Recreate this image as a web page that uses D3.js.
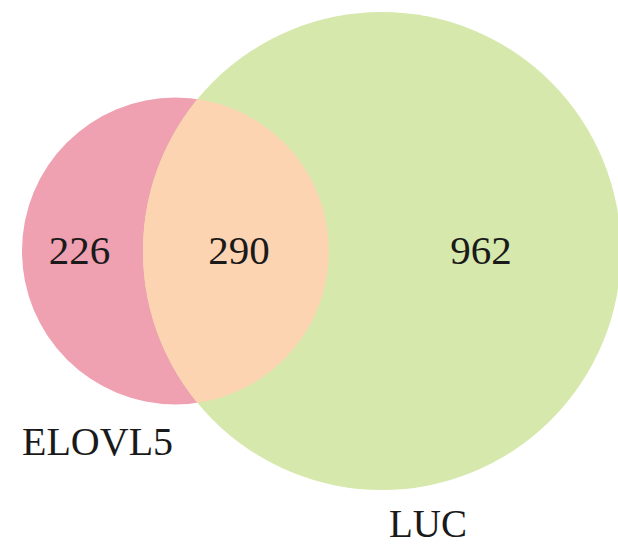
<!DOCTYPE html>
<html>
<head>
<meta charset="utf-8">
<script src="https://cdn.jsdelivr.net/npm/d3@7"></script>
<style>
  body { margin: 0; background: #fff; }
  text { font-family: "Liberation Serif", "Times New Roman", serif; fill: #1a1a1a; }
</style>
</head>
<body>
<svg id="viz"></svg>
<script>
let width = 618;
let height = 547;

// region counts
let setNames = ["ELOVL5", "LUC"];
let onlyCounts = [226, 962];
let sharedCount = 290;
let setColors = ["#efa0b1", "#d6e8ac"];
let sharedColor = "#fdd4b1";

let totals = [onlyCounts[0] + sharedCount, onlyCounts[1] + sharedCount];

let svg = d3.select("#viz")
    .attr("width", width)
    .attr("height", height);

// area proportional radii
let r = d3.scaleSqrt()
    .domain([0, d3.max(totals)])
    .range([0, 239]);

let r1 = r(totals[0]);
let r2 = r(totals[1]);

function lensArea(d) {
    let a = r1*r1*Math.acos((d*d + r1*r1 - r2*r2) / (2*d*r1));
    let b = r2*r2*Math.acos((d*d + r2*r2 - r1*r1) / (2*d*r2));
    let c = 0.5*Math.sqrt((-d+r1+r2)*(d+r1-r2)*(d-r1+r2)*(d+r1+r2));
    return a + b - c;
}

// find center distance so overlap area matches shared count
let target = Math.PI * r2 * r2 * sharedCount / totals[1];
let lo = r2 - r1 + 0.001, hi = r1 + r2 - 0.001;
for (let i = 0; i < 60; i++) {
    let mid = (lo + hi) / 2;
    if (lensArea(mid) > target) lo = mid; else hi = mid;
}
let dist = (lo + hi) / 2;

let cy = 251;
let cx1 = 22 + r1;
let cx2 = cx1 + dist;

let circles = [
    {name: setNames[0], cx: cx1, r: r1, color: setColors[0]},
    {name: setNames[1], cx: cx2, r: r2, color: setColors[1]}
];

svg.selectAll("circle.set")
    .data(circles)
    .enter().append("circle")
    .attr("class", "set")
    .attr("cx", d => d.cx)
    .attr("cy", cy)
    .attr("r", d => d.r)
    .style("fill", d => d.color);

// overlap region
svg.append("clipPath").attr("id", "clipA")
    .append("circle")
    .attr("cx", cx1).attr("cy", cy).attr("r", r1);

svg.append("circle")
    .attr("cx", cx2).attr("cy", cy).attr("r", r2)
    .attr("clip-path", "url(#clipA)")
    .style("fill", sharedColor);

// counts
let labels = [
    {text: onlyCounts[0], x: (cx1 - r1 + cx2 - r2) / 2 - 3},
    {text: sharedCount, x: (cx2 - r2 + cx1 + r1) / 2 + 3},
    {text: onlyCounts[1], x: (cx1 + r1 + cx2 + r2) / 2 + 6}
];

svg.selectAll("text.count")
    .data(labels)
    .enter().append("text")
    .attr("class", "count")
    .attr("x", d => d.x)
    .attr("y", cy + 13)
    .attr("text-anchor", "middle")
    .style("font-size", "41px")
    .text(d => d.text);

// set names
svg.append("text")
    .attr("x", cx1 - r1)
    .attr("y", cy + r1 + 51)
    .style("font-size", "40px")
    .text(setNames[0]);

svg.append("text")
    .attr("x", cx2 + 46)
    .attr("y", cy + r2 + 47)
    .attr("text-anchor", "middle")
    .style("font-size", "39px")
    .text(setNames[1]);
</script>
</body>
</html>
